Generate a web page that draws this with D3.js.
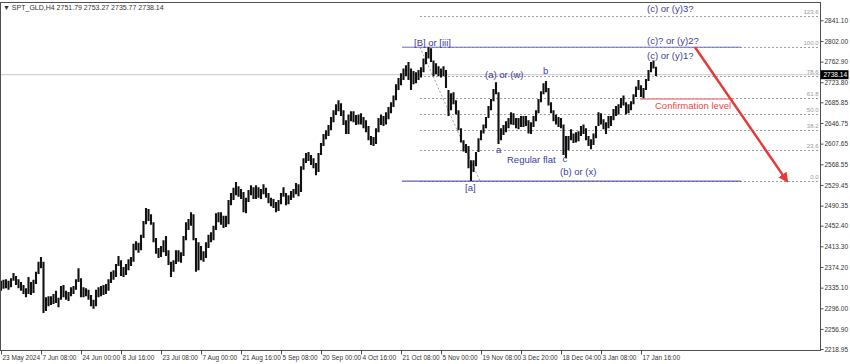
<!DOCTYPE html>
<html>
<head>
<meta charset="utf-8">
<script src="https://cdn.jsdelivr.net/npm/d3@7"></script>
<style>
  body { margin: 0; background: #fff; }
  svg { display: block; }
  text { font-family: "Liberation Sans", Arial, sans-serif; }
</style>
</head>
<body>
<svg id="chart" width="850" height="364"></svg>
<script>
'use strict';

// SPT_GLD H4, one entry per drawn bar
var barHigh = [
  2348,2350,2351,2348,2353,2363,2357,2351,2346,2340,
  2334,2355,2346,2350,2365,2384,2393,2384,2317,2319,
  2319,2323,2329,2316,2338,2340,2329,2327,2336,2338,
  2351,2372,2353,2336,2334,2331,2321,2312,2331,2336,
  2338,2340,2342,2351,2365,2368,2380,2395,2387,2374,
  2380,2389,2393,2418,2423,2420,2435,2461,2486,2484,
  2474,2459,2429,2410,2414,2425,2433,2406,2384,2387,
  2406,2406,2402,2433,2459,2465,2478,2474,2429,2421,
  2414,2404,2421,2435,2440,2452,2476,2478,2478,2471,
  2471,2501,2514,2524,2535,2527,2522,2516,2505,2520,
  2529,2525,2529,2525,2522,2531,2524,2514,2505,2503,
  2497,2501,2514,2525,2514,2510,2518,2522,2533,2531,
  2565,2580,2590,2592,2586,2580,2571,2590,2609,2626,
  2633,2643,2658,2671,2682,2690,2684,2671,2652,2663,
  2669,2669,2662,2663,2665,2658,2652,2641,2622,2620,
  2637,2656,2663,2660,2667,2677,2686,2699,2720,2732,
  2741,2750,2756,2762,2750,2745,2743,2747,2752,2769,
  2781,2790.15,2788,2765,2760,2754,2750,2754,2747,2709,
  2703,2705,2690,2671,2637,2614,2607,2603,2576,2576,
  2592,2618,2633,2644,2658,2679,2692,2711,2724,2705,
  2637,2643,2650,2656,2667,2665,2656,2656,2660,2660,
  2660,2652,2648,2660,2671,2692,2707,2722,2726,2713,
  2686,2671,2663,2658,2656,2644,2622,2622,2635,2627,
  2629,2631,2641,2644,2637,2622,2616,2627,2641,2667,
  2665,2654,2648,2660,2660,2673,2679,2682,2694,2699,
  2686,2682,2688,2701,2716,2728,2718,2713,2730,2747,
  2762,2765,2753.27
];
var barLow = [
  2329,2333,2334,2331,2336,2348,2340,2334,2329,2323,
  2317,2323,2321,2325,2342,2361,2372,2287,2291,2300,
  2302,2304,2306,2298,2312,2317,2312,2310,2319,2323,
  2331,2346,2317,2317,2319,2312,2300,2295,2300,2317,
  2319,2321,2323,2329,2344,2350,2355,2376,2357,2355,
  2359,2368,2376,2384,2406,2401,2406,2429,2455,2461,
  2454,2421,2399,2391,2393,2402,2395,2378,2355,2365,
  2380,2384,2382,2395,2425,2444,2452,2425,2365,2368,
  2387,2384,2391,2410,2421,2425,2444,2459,2454,2448,
  2450,2455,2491,2501,2510,2507,2503,2478,2476,2497,
  2510,2503,2503,2505,2503,2512,2505,2495,2489,2486,
  2478,2480,2493,2507,2491,2493,2501,2505,2512,2508,
  2516,2558,2571,2575,2567,2561,2548,2554,2586,2603,
  2616,2622,2633,2648,2662,2669,2660,2643,2626,2626,
  2650,2648,2643,2644,2644,2637,2629,2614,2605,2603,
  2607,2629,2643,2641,2644,2654,2665,2677,2690,2709,
  2718,2728,2735,2728,2709,2720,2722,2728,2733,2743,
  2758,2769,2762,2735,2739,2735,2733,2735,2713,2660,
  2671,2682,2663,2633,2610,2593,2590,2561,2536.7,2554,
  2565,2592,2614,2627,2637,2656,2671,2688,2701,2607,
  2614,2624,2629,2637,2644,2643,2637,2635,2639,2639,
  2641,2627,2626,2639,2650,2665,2686,2701,2705,2680,
  2665,2650,2644,2639,2637,2586,2580,2595,2614,2609,
  2610,2612,2622,2626,2614,2603,2597,2605,2618,2641,
  2644,2635,2626,2637,2641,2652,2660,2663,2675,2680,
  2663,2665,2671,2682,2696,2709,2696,2692,2709,2726,
  2743,2750,2735.77
];
var lastBar = { open: 2751.79, high: 2753.27, low: 2735.77, close: 2738.14 };

var dateLabels = ['23 May 2024','7 Jun 08:00','24 Jun 00:00','8 Jul 16:00','23 Jul 08:00',
  '7 Aug 00:00','21 Aug 16:00','5 Sep 08:00','20 Sep 00:00','4 Oct 16:00','21 Oct 08:00',
  '5 Nov 00:00','19 Nov 08:00','3 Dec 20:00','18 Dec 04:00','3 Jan 08:00','17 Jan 16:00'];
var priceTicks = [2841.10,2802.00,2762.90,2723.80,2685.85,2646.75,2607.65,2568.55,2529.45,
  2490.35,2452.40,2413.30,2374.20,2335.10,2296.00,2256.90,2218.95];

// fibonacci retracement from the [B] high to the [a] low
var fibHigh = 2790.15, fibLow = 2536.7;
var fibLevels = [0, 23.6, 38.2, 50, 61.8, 78.6, 100, 123.6];
var fibFrom = 167.6, fibTo = 191.6;

// wave labels: bar index, price, text
var waveLabels = [
  { bar: 165.2, price: 2792, text: '[B] or [iii]' },
  { bar: 258.4, price: 2856, text: '(c) or (y)3?' },
  { bar: 258.4, price: 2796, text: '(c)? or (y)2?' },
  { bar: 258.4, price: 2767, text: '(c) or (y)1?' },
  { bar: 193.6, price: 2731.5, text: '(a) or (w)' },
  { bar: 216.8, price: 2739, text: 'b' },
  { bar: 198.0, price: 2590, text: 'a' },
  { bar: 202.4, price: 2571, text: 'Regular flat' },
  { bar: 224.6, price: 2573, text: 'c' },
  { bar: 223.6, price: 2548, text: '(b) or (x)' },
  { bar: 185.6, price: 2518, text: '[a]' }
];
var confirmLevel = 2692, confirmFrom = 255.6, confirmTo = 292.8;
var arrowFrom = { bar: 277.6, price: 2790.15 }, arrowTo = { bar: 314.4, price: 2536.7 };
var blueLineFrom = 160.4, blueLineTo = 296;

(function () {
  var svg = d3.select('#chart');
  var pl = 0.5, pr = 820.5, pt = 2.5, pb = 350.5;

  var x = d3.scaleLinear().domain([0, barHigh.length - 1]).range([1, 1 + 2.5 * (barHigh.length - 1)]);
  var y = d3.scaleLinear().domain([2218.95, 2841.10]).range([349, 20.3]);

  svg.append('clipPath').attr('id', 'plot')
    .append('rect').attr('x', pl).attr('y', pt).attr('width', pr - pl).attr('height', pb - pt);

  var g = svg.append('g').attr('clip-path', 'url(#plot)');

  // current bid line
  g.append('line')
    .attr('x1', pl).attr('x2', pr)
    .attr('y1', y(lastBar.close)).attr('y2', y(lastBar.close))
    .style('stroke', '#c8c8c8').style('stroke-width', 1);

  // fib levels
  fibLevels.forEach(function (lv) {
    var p = fibLow + (fibHigh - fibLow) * lv / 100;
    g.append('line')
      .attr('x1', x(fibFrom)).attr('x2', pr)
      .attr('y1', Math.round(y(p)) + 0.5).attr('y2', Math.round(y(p)) + 0.5)
      .style('stroke', '#a0a0a0').style('stroke-dasharray', '2,2');
    svg.append('text')
      .attr('x', pr - 2).attr('y', y(p) - 2)
      .style('font-size', '6px').style('fill', '#9a9a9a')
      .style('text-anchor', 'end')
      .text(lv.toFixed(1));
  });
  g.append('line')
    .attr('x1', x(fibFrom)).attr('y1', y(fibHigh))
    .attr('x2', x(fibTo)).attr('y2', y(fibLow))
    .style('stroke', '#a0a0a0').style('stroke-dasharray', '2,2');

  // blue trend lines at the high and the low
  g.append('line')
    .attr('x1', x(blueLineFrom)).attr('x2', x(blueLineTo))
    .attr('y1', y(fibHigh)).attr('y2', y(fibHigh))
    .style('stroke', '#6a6ad8').style('stroke-width', 1);
  g.append('line')
    .attr('x1', x(blueLineFrom)).attr('x2', x(blueLineTo))
    .attr('y1', y(fibLow)).attr('y2', y(fibLow))
    .style('stroke', '#3a3a9a').style('stroke-width', 1);

  // bars
  g.selectAll('.bar')
    .data(barHigh)
    .enter().append('line')
    .attr('class', 'bar')
    .attr('x1', function (d, i) { return x(i); })
    .attr('x2', function (d, i) { return x(i); })
    .attr('y1', function (d) { return y(d); })
    .attr('y2', function (d, i) { return y(barLow[i]); })
    .style('stroke', '#111').style('stroke-width', 2.1);

  // confirmation level
  g.append('line')
    .attr('x1', x(confirmFrom)).attr('x2', x(confirmTo))
    .attr('y1', y(confirmLevel)).attr('y2', y(confirmLevel))
    .style('stroke', '#f08a8a').style('stroke-width', 1.5);
  svg.append('text')
    .attr('x', x(261.6)).attr('y', y(2673))
    .style('font-size', '9.5px').style('fill', '#e84848')
    .text('Confirmation level');

  // red arrow
  svg.append('defs').append('marker')
    .attr('id', 'head').attr('viewBox', '0 0 10 10')
    .attr('refX', 8).attr('refY', 5)
    .attr('markerWidth', 4).attr('markerHeight', 4)
    .attr('orient', 'auto')
    .append('path').attr('d', 'M0,0L10,5L0,10z').style('fill', '#e53a3a');
  g.append('line')
    .attr('x1', x(arrowFrom.bar)).attr('y1', y(arrowFrom.price))
    .attr('x2', x(arrowTo.bar)).attr('y2', y(arrowTo.price))
    .attr('marker-end', 'url(#head)')
    .style('stroke', '#e53a3a').style('stroke-width', 2.5);

  // wave labels
  g.selectAll('.wave')
    .data(waveLabels)
    .enter().append('text')
    .attr('class', 'wave')
    .attr('x', function (d) { return x(d.bar); })
    .attr('y', function (d) { return y(d.price); })
    .style('font-size', '9.5px').style('fill', '#3c3c9c')
    .text(function (d) { return d.text; });

  // frame
  svg.append('rect')
    .attr('x', pl).attr('y', pt).attr('width', pr - pl).attr('height', pb - pt)
    .style('fill', 'none').style('stroke', '#505050').style('stroke-width', 1);

  // price axis
  var yAxis = svg.append('g')
    .attr('transform', 'translate(' + pr + ',0)')
    .call(d3.axisRight(y).tickValues(priceTicks).tickFormat(d3.format('.2f')).tickSize(3).tickSizeOuter(0));
  yAxis.select('.domain').remove();
  yAxis.selectAll('line').style('stroke', '#505050');
  yAxis.selectAll('text').style('font-size', '6.5px').style('fill', '#333').attr('x', 4)
    .style('font-family', '"Liberation Sans", Arial, sans-serif');

  // time axis
  var xAxis = svg.append('g')
    .attr('transform', 'translate(0,' + pb + ')')
    .call(d3.axisBottom(x).tickValues(d3.range(0, dateLabels.length).map(function (i) { return i * 16; }))
      .tickFormat(function (d, i) { return dateLabels[i]; }).tickSize(4).tickSizeOuter(0));
  xAxis.select('.domain').remove();
  xAxis.selectAll('line').style('stroke', '#505050');
  xAxis.selectAll('text').style('font-size', '6.5px').style('fill', '#333')
    .style('text-anchor', 'start').attr('x', 1).attr('y', 5).attr('dy', '0.71em')
    .style('font-family', '"Liberation Sans", Arial, sans-serif');

  // last price tag
  var ly = y(lastBar.close);
  svg.append('rect').attr('x', pr).attr('y', ly - 4.5).attr('width', 28).attr('height', 9).style('fill', '#000');
  svg.append('text').attr('x', pr + 3).attr('y', ly + 2.5)
    .style('font-size', '6.5px').style('fill', '#fff').text(lastBar.close.toFixed(2));

  // header
  svg.append('text').attr('x', 3).attr('y', 9.5)
    .style('font-size', '7px').style('fill', '#333')
    .text('\u25BC SPT_GLD,H4  ' + [lastBar.open, lastBar.high, lastBar.low, lastBar.close].map(function (v) { return v.toFixed(2); }).join(' '));
})();
</script>
</body>
</html>
